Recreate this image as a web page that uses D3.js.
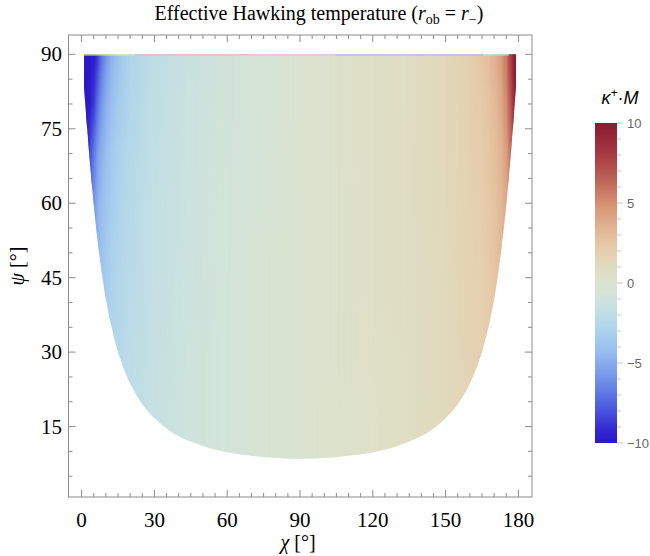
<!DOCTYPE html>
<html>
<head>
<meta charset="utf-8">
<script src="https://cdn.jsdelivr.net/npm/d3@7"></script>
<style>
  body { margin: 0; background: #fff; }
  svg { display: block; }
</style>
</head>
<body>
<svg width="650" height="556"></svg>
<script>
// --- data ---
const chiCols = [1, 2, 3, 4, 5, 6, 7, 8, 10, 12, 15, 20, 30, 45, 60, 75, 90, 105, 120, 135, 150, 160, 165, 168, 171, 173, 175, 176, 177, 178, 179];
const psiRows = [90, 80, 70, 60, 45, 30, 15, 8];
// kappa+ M at (chiCols[i], psiRows[j])
const kappaGrid = [
  [-10, -10, -10, -10, -10, -10, -10, -10],
  [-10, -10, -9.5, -9, -8.5, -8, -8, -8],
  [-10, -9.8, -8.6, -7.6, -7, -6.5, -6.5, -6.5],
  [-10, -9.4, -7.6, -6.6, -6, -5.5, -5.5, -5.5],
  [-9.8, -8.6, -6.8, -5.8, -5.2, -4.8, -4.6, -4.6],
  [-9.2, -7.6, -6, -5.2, -4.7, -4.4, -4.2, -4.2],
  [-8.2, -6.6, -5.3, -4.6, -4.2, -4, -3.9, -3.9],
  [-7.2, -5.8, -4.8, -4.2, -3.8, -3.6, -3.5, -3.5],
  [-5.8, -4.8, -4.1, -3.7, -3.4, -3, -2.9, -2.9],
  [-4.8, -4.1, -3.6, -3.3, -3.1, -2.8, -2.7, -2.7],
  [-3.8, -3.4, -3.1, -2.9, -2.7, -2.5, -2.4, -2.4],
  [-2.9, -2.7, -2.5, -2.4, -2.3, -2.1, -2, -2],
  [-2, -1.9, -1.8, -1.75, -1.7, -1.6, -1.5, -1.5],
  [-1.3, -1.25, -1.2, -1.15, -1.1, -1, -1, -1],
  [-0.8, -0.78, -0.75, -0.72, -0.7, -0.68, -0.65, -0.65],
  [-0.4, -0.4, -0.38, -0.36, -0.35, -0.33, -0.3, -0.3],
  [0, 0, 0, 0, 0, 0, 0, 0],
  [0.3, 0.3, 0.3, 0.28, 0.28, 0.27, 0.26, 0.26],
  [0.6, 0.6, 0.58, 0.56, 0.55, 0.53, 0.5, 0.5],
  [0.9, 0.9, 0.88, 0.85, 0.82, 0.8, 0.78, 0.78],
  [1.35, 1.32, 1.3, 1.27, 1.24, 1.2, 1.15, 1.15],
  [1.95, 1.85, 1.8, 1.75, 1.7, 1.65, 1.6, 1.6],
  [2.5, 2.3, 2.2, 2.1, 2, 1.95, 1.9, 1.9],
  [3, 2.7, 2.5, 2.4, 2.3, 2.2, 2.1, 2.1],
  [3.8, 3.3, 3, 2.8, 2.7, 2.6, 2.5, 2.5],
  [4.6, 4, 3.5, 3.3, 3.1, 3, 2.9, 2.9],
  [6, 5.2, 4.5, 4.1, 3.8, 3.6, 3.5, 3.5],
  [7.2, 6.2, 5.3, 4.8, 4.4, 4.2, 4, 4],
  [8.4, 7.4, 6.4, 5.8, 5.3, 5, 4.8, 4.8],
  [9.5, 8.8, 7.8, 7, 6.5, 6, 6, 6],
  [10, 10, 9.4, 8.8, 8.2, 7.6, 7.5, 7.5]
];

// lower edge of the plotted region
const boundaryChi = [179, 178.5, 178, 177, 176, 175, 174, 172, 170, 167, 164, 160, 155, 150, 145, 140, 130, 120, 110, 100, 90,
                     80, 70, 60, 50, 40, 35, 30, 25, 20, 16, 13, 10, 8, 6, 5, 4, 3, 2, 1.5, 1];
const boundaryPsi = [83.4, 80.2, 76.9, 70.8, 65.0, 59.8, 55.1, 47.2, 40.8, 33.7, 28.6, 23.7, 19.5, 16.7, 14.6, 13.1, 11.1, 9.8, 9.1, 8.66, 8.53,
                     8.66, 9.1, 9.8, 11.1, 13.1, 14.6, 16.7, 19.5, 23.7, 28.6, 33.7, 40.8, 47.2, 55.1, 59.8, 65.0, 70.8, 76.9, 80.2, 83.4];

// thin coloured artefact line along psi = 90
const topSegStart = [0.7, 22, 68.5, 104.5, 165.5];
const topSegEnd = [22, 68.5, 104.5, 165.5, 176];
const topSegColors = ["#d6f0a4", "#f3b3b3", "#f3b3f3", "#b3b3f3", "#aaf0e0"];

const xTicks = [0, 30, 60, 90, 120, 150, 180];
const yTicks = [15, 30, 45, 60, 75, 90];
const cbTicks = [-10, -5, 0, 5, 10];

// colour map (value -> colour)
const cbStopValues = [-10, -9.2, -7.7, -6.1, -4.4, -2.9, -1.7, -0.6, 0.2, 1.0, 2.2, 3.6, 4.7, 6.3, 8, 10];
const cbStopColors = ["#2a18c8", "#3228d0", "#4e5ee0", "#7090e8", "#94baf0", "#aed4ec", "#c4e0e4", "#d4e4d8",
                      "#dce2cc", "#e0dcc0", "#e6ccaa", "#e0b090", "#d89878", "#c06858", "#a83a44", "#8a1a2e"];

// --- drawing ---
const svg = d3.select("svg");
const frame = { left: 68.5, right: 532, top: 35, bottom: 497 };

const x = d3.scaleLinear().domain([-5.4, 185.6]).range([frame.left, frame.right]);
const y = d3.scaleLinear().domain([0.8, 93.9]).range([frame.bottom, frame.top]);
const color = d3.scaleLinear().domain(cbStopValues).range(cbStopColors)
  .interpolate(d3.interpolateRgb).clamp(true);

const defs = svg.append("defs");

// region outline
const pts = boundaryChi.map((c, i) => [x(c), y(boundaryPsi[i])]);
const edge = d3.line().curve(d3.curveCatmullRom)(pts);
const regionD = `M${x(boundaryChi[boundaryChi.length - 1])},${y(90)}L${x(boundaryChi[0])},${y(90)}` +
  `L${x(boundaryChi[0])},${y(boundaryPsi[0])}` + edge.replace(/^M[^A-Z]*/, "") + "Z";

defs.append("clipPath").attr("id", "region")
  .append("path").attr("d", regionD);

// one vertical gradient per chi column
const yTop = y(psiRows[0]), yBot = y(psiRows[psiRows.length - 1]);
chiCols.forEach((c, i) => {
  const g = defs.append("linearGradient")
    .attr("id", "col" + i)
    .attr("gradientUnits", "userSpaceOnUse")
    .attr("x1", 0).attr("x2", 0).attr("y1", yTop).attr("y2", yBot);
  psiRows.forEach((p, j) => {
    g.append("stop")
      .attr("offset", (y(p) - yTop) / (yBot - yTop))
      .attr("stop-color", color(kappaGrid[i][j]));
  });
});

// horizontal ramp mask to blend neighbouring columns
const ramp = defs.append("linearGradient").attr("id", "ramp")
  .attr("x1", 0).attr("x2", 1).attr("y1", 0).attr("y2", 0);
ramp.append("stop").attr("offset", 0).attr("stop-color", "#000");
ramp.append("stop").attr("offset", 1).attr("stop-color", "#fff");
defs.append("mask").attr("id", "rampMask")
  .attr("maskContentUnits", "objectBoundingBox")
  .append("rect").attr("width", 1).attr("height", 1).attr("fill", "url(#ramp)");

const field = svg.append("g").attr("clip-path", "url(#region)");
const hTop = yTop - 2, hLen = yBot - yTop + 4;
// left end (chi 0 .. first column)
field.append("rect")
  .attr("x", x(0)).attr("width", x(chiCols[0]) - x(0) + 0.5)
  .attr("y", hTop).attr("height", hLen)
  .attr("fill", "url(#col0)");
d3.range(chiCols.length - 1).forEach(i => {
  const a = x(chiCols[i]), b = x(chiCols[i + 1]);
  field.append("rect")
    .attr("x", a).attr("width", b - a + 0.5)
    .attr("y", hTop).attr("height", hLen)
    .attr("fill", `url(#col${i})`);
  field.append("rect")
    .attr("x", a).attr("width", b - a + 0.5)
    .attr("y", hTop).attr("height", hLen)
    .attr("fill", `url(#col${i + 1})`)
    .attr("mask", "url(#rampMask)");
});
field.append("rect")
  .attr("x", x(chiCols[chiCols.length - 1])).attr("width", x(180) - x(chiCols[chiCols.length - 1]))
  .attr("y", hTop).attr("height", hLen)
  .attr("fill", `url(#col${chiCols.length - 1})`);

// top artefact line
svg.append("g").selectAll("line")
  .data(topSegStart)
  .join("line")
  .attr("x1", d => x(d))
  .attr("x2", (d, i) => x(topSegEnd[i]))
  .attr("y1", y(90) + 0.5).attr("y2", y(90) + 0.5)
  .attr("stroke", (d, i) => topSegColors[i])
  .attr("stroke-width", 1.2);

// frame and ticks
const axisColor = "#8c8c8c";
svg.append("rect")
  .attr("x", frame.left).attr("y", frame.top)
  .attr("width", frame.right - frame.left).attr("height", frame.bottom - frame.top)
  .attr("fill", "none").attr("stroke", axisColor).attr("stroke-width", 1);

const xMinor = d3.range(0, 181, 5);
const yMinor = d3.range(5, 91, 5);
const tickG = svg.append("g").attr("stroke", axisColor).attr("stroke-width", 1);
xMinor.forEach(v => {
  const len = v % 30 === 0 ? 7 : 4;
  tickG.append("line").attr("x1", x(v)).attr("x2", x(v)).attr("y1", frame.bottom).attr("y2", frame.bottom - len);
  tickG.append("line").attr("x1", x(v)).attr("x2", x(v)).attr("y1", frame.top).attr("y2", frame.top + len);
});
yMinor.forEach(v => {
  const len = v % 15 === 0 ? 7 : 4;
  tickG.append("line").attr("y1", y(v)).attr("y2", y(v)).attr("x1", frame.left).attr("x2", frame.left + len);
  tickG.append("line").attr("y1", y(v)).attr("y2", y(v)).attr("x1", frame.right).attr("x2", frame.right - len);
});

const serif = "'Liberation Serif', 'DejaVu Serif', serif";
svg.append("g").selectAll("text")
  .data(xTicks)
  .join("text")
  .attr("x", d => x(d)).attr("y", 527)
  .attr("text-anchor", "middle")
  .attr("font-family", serif).attr("font-size", 21)
  .text(d => d);

svg.append("g").selectAll("text")
  .data(yTicks)
  .join("text")
  .attr("x", 62).attr("y", d => y(d) + 7)
  .attr("text-anchor", "end")
  .attr("font-family", serif).attr("font-size", 21)
  .text(d => d);

// axis labels
const xl = svg.append("text")
  .attr("x", 298).attr("y", 549)
  .attr("text-anchor", "middle")
  .attr("font-family", serif).attr("font-size", 20);
xl.append("tspan").attr("font-style", "italic").text("χ");
xl.append("tspan").text(" [°]");

const yl = svg.append("text")
  .attr("transform", `translate(24,${(frame.top + frame.bottom) / 2}) rotate(-90)`)
  .attr("text-anchor", "middle")
  .attr("font-family", serif).attr("font-size", 20);
yl.append("tspan").attr("font-style", "italic").text("ψ");
yl.append("tspan").text(" [°]");

// title
const title = svg.append("text")
  .attr("x", 319).attr("y", 20)
  .attr("text-anchor", "middle")
  .attr("font-family", serif).attr("font-size", 20);
title.append("tspan").text("Effective Hawking temperature (");
title.append("tspan").attr("font-style", "italic").text("r");
title.append("tspan").attr("font-size", 14).attr("dy", 4).text("ob");
title.append("tspan").attr("dy", -4).text(" = ");
title.append("tspan").attr("font-style", "italic").text("r");
title.append("tspan").attr("font-size", 14).attr("dy", 4).text("−");
title.append("tspan").attr("dy", -4).text(")");

// colour bar
const cb = { x: 595, w: 22, top: 123, bottom: 443 };
const cbY = d3.scaleLinear().domain([-10, 10]).range([cb.bottom, cb.top]);
const cbGrad = defs.append("linearGradient")
  .attr("id", "cbGrad")
  .attr("x1", 0).attr("x2", 0).attr("y1", 1).attr("y2", 0);
cbStopValues.forEach((v, i) => {
  cbGrad.append("stop").attr("offset", (v + 10) / 20).attr("stop-color", cbStopColors[i]);
});
svg.append("rect")
  .attr("x", cb.x).attr("y", cb.top)
  .attr("width", cb.w).attr("height", cb.bottom - cb.top)
  .attr("fill", "url(#cbGrad)");

const cbTickG = svg.append("g").attr("stroke", "#c4c4c4").attr("stroke-width", 1);
d3.range(-10, 11, 1).forEach(v => {
  cbTickG.append("line")
    .attr("x1", cb.x + cb.w).attr("x2", cb.x + cb.w + (v % 5 === 0 ? 6 : 4))
    .attr("y1", cbY(v)).attr("y2", cbY(v));
});
svg.append("g").selectAll("text")
  .data(cbTicks)
  .join("text")
  .attr("x", 627).attr("y", d => cbY(d) + 4.5)
  .attr("font-family", "'Liberation Sans', Arial, sans-serif").attr("font-size", 13)
  .attr("fill", "#666")
  .text(d => d < 0 ? "−" + Math.abs(d) : d);

const cbl = svg.append("text")
  .attr("x", 620).attr("y", 104)
  .attr("text-anchor", "middle")
  .attr("font-family", "'Liberation Sans', Arial, sans-serif").attr("font-size", 18)
  .attr("font-style", "italic");
cbl.append("tspan").text("κ");
cbl.append("tspan").attr("font-size", 12).attr("dy", -7).text("+");
cbl.append("tspan").attr("dy", 7).text("·M");
</script>
</body>
</html>
